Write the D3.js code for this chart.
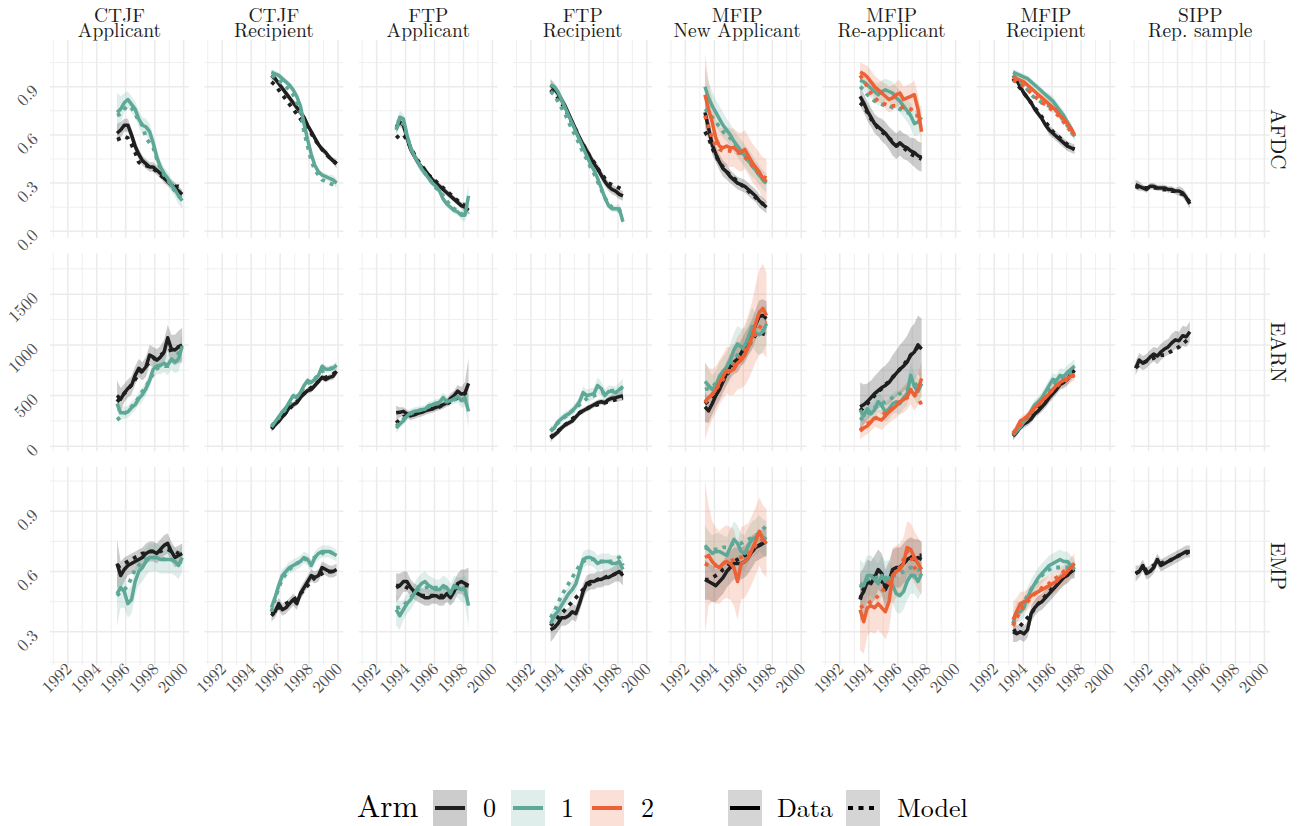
<!DOCTYPE html>
<html><head><meta charset="utf-8">
<script src="https://cdn.jsdelivr.net/npm/d3@7"></script>
<style>body{margin:0;background:#fff}</style>
</head><body>
<svg id="chart" width="1302" height="826"></svg>
<script>
// ---------- facet labels & ticks ----------
const programs = ["CTJF","CTJF","FTP","FTP","MFIP","MFIP","MFIP","SIPP"];
const samples  = ["Applicant","Recipient","Applicant","Recipient","New Applicant","Re-applicant","Recipient","Rep. sample"];
const outcomes = ["AFDC","EARN","EMP"];
const startYear = [1995.4,1995.4,1993.35,1993.35,1993.35,1993.4,1993.3,1991.1]; // first quarter plotted per column
const xTicks = [1992,1994,1996,1998,2000];
const xMinor = [1991,1993,1995,1997,1999];
const yTicksAFDC = [0,0.3,0.6,0.9],  yMinorAFDC = [0.15,0.45,0.75,1.05];
const yTicksEARN = [0,500,1000,1500], yMinorEARN = [250,750,1250,1750];
const yTicksEMP  = [0.3,0.6,0.9],    yMinorEMP  = [0.15,0.45,0.75,1.05];
const yLabelsAFDC = ["0.0","0.3","0.6","0.9"];
const yLabelsEARN = ["0","500","1000","1500"];
const yLabelsEMP  = ["0.3","0.6","0.9"];
const armLabels = ["0","1","2"];
const typeLabels = ["Data","Model"];

// ---------- AFDC ----------
const ctjfA_afdc_d0=[0.61,0.63,0.66,0.66,0.60,0.53,0.48,0.44,0.42,0.40,0.40,0.38,0.36,0.33,0.31,0.29,0.27,0.25,0.23];
const ctjfA_afdc_m0=[0.57,0.58,0.59,0.58,0.54,0.49,0.43,0.41,0.41,0.40,0.39,0.37,0.35,0.33,0.31,0.29,0.28,0.28,0.27];
const ctjfA_afdc_s0=[0.06,0.05,0.04,0.04,0.04,0.04,0.03,0.03,0.03,0.03,0.03,0.03,0.03,0.03,0.03,0.03,0.03,0.03,0.03];
const ctjfA_afdc_d1=[0.74,0.76,0.80,0.82,0.79,0.76,0.70,0.66,0.65,0.62,0.55,0.46,0.40,0.36,0.33,0.29,0.26,0.22,0.19];
const ctjfA_afdc_m1=[0.72,0.73,0.76,0.78,0.77,0.73,0.69,0.66,0.58,0.55,0.52,0.45,0.39,0.35,0.32,0.28,0.25,0.22,0.20];
const ctjfA_afdc_s1=[0.12,0.08,0.06,0.05,0.05,0.05,0.05,0.05,0.05,0.05,0.05,0.05,0.04,0.04,0.04,0.04,0.05,0.05,0.05];

const ctjfR_afdc_d0=[0.97,0.95,0.92,0.89,0.86,0.83,0.80,0.77,0.74,0.71,0.66,0.62,0.58,0.54,0.51,0.49,0.46,0.44,0.42];
const ctjfR_afdc_m0=[0.93,0.91,0.88,0.85,0.82,0.79,0.76,0.73,0.70,0.67,0.64,0.61,0.57,0.54,0.51,0.48,0.46,0.44,0.42];
const ctjfR_afdc_s0=[0.03,0.02,0.02,0.02,0.02,0.02,0.02,0.02,0.02,0.02,0.02,0.02,0.02,0.02,0.02,0.02,0.02,0.02,0.03];
const ctjfR_afdc_d1=[0.99,0.98,0.97,0.95,0.93,0.91,0.88,0.84,0.78,0.67,0.57,0.48,0.41,0.37,0.35,0.34,0.33,0.32,0.30];
const ctjfR_afdc_m1=[0.97,0.96,0.94,0.92,0.90,0.88,0.85,0.80,0.75,0.62,0.53,0.44,0.38,0.35,0.32,0.31,0.30,0.29,0.28];
const ctjfR_afdc_s1=[0.02,0.02,0.02,0.02,0.02,0.02,0.02,0.02,0.02,0.02,0.02,0.02,0.02,0.02,0.02,0.02,0.02,0.03,0.03];

const ftpA_afdc_d0=[0.65,0.68,0.66,0.58,0.51,0.47,0.43,0.40,0.38,0.35,0.32,0.30,0.28,0.26,0.24,0.22,0.20,0.18,0.16,0.15,0.13];
const ftpA_afdc_m0=[0.58,0.60,0.60,0.57,0.52,0.48,0.44,0.41,0.38,0.35,0.33,0.31,0.29,0.27,0.25,0.23,0.21,0.19,0.17,0.16,0.15];
const ftpA_afdc_s0=[0.04,0.03,0.03,0.03,0.03,0.02,0.02,0.02,0.02,0.02,0.02,0.02,0.02,0.02,0.02,0.02,0.02,0.02,0.02,0.03,0.03];
const ftpA_afdc_d1=[0.63,0.71,0.70,0.60,0.52,0.47,0.43,0.39,0.36,0.33,0.30,0.28,0.25,0.20,0.17,0.15,0.13,0.12,0.10,0.10,0.22];
const ftpA_afdc_m1=[0.64,0.68,0.67,0.59,0.52,0.47,0.43,0.39,0.36,0.33,0.30,0.27,0.25,0.22,0.19,0.16,0.14,0.13,0.11,0.10,0.12];
const ftpA_afdc_s1=[0.05,0.04,0.03,0.03,0.03,0.03,0.03,0.03,0.02,0.02,0.02,0.02,0.02,0.02,0.02,0.02,0.02,0.02,0.03,0.04,0.08];

const ftpR_afdc_d0=[0.91,0.89,0.86,0.82,0.78,0.73,0.68,0.63,0.58,0.54,0.50,0.46,0.42,0.39,0.35,0.31,0.28,0.26,0.25,0.23,0.22];
const ftpR_afdc_m0=[0.88,0.86,0.83,0.80,0.76,0.72,0.67,0.63,0.58,0.54,0.50,0.46,0.43,0.39,0.36,0.33,0.30,0.29,0.28,0.27,0.26];
const ftpR_afdc_s0=[0.04,0.03,0.03,0.03,0.03,0.03,0.03,0.03,0.03,0.03,0.03,0.03,0.03,0.03,0.03,0.03,0.03,0.03,0.03,0.03,0.03];
const ftpR_afdc_d1=[0.91,0.90,0.87,0.82,0.77,0.72,0.67,0.62,0.57,0.52,0.47,0.42,0.38,0.33,0.27,0.21,0.16,0.14,0.14,0.14,0.06];
const ftpR_afdc_m1=[0.87,0.85,0.81,0.77,0.73,0.68,0.63,0.59,0.54,0.49,0.45,0.40,0.36,0.31,0.26,0.21,0.17,0.15,0.14,0.13,0.10];
const ftpR_afdc_s1=[0.03,0.03,0.02,0.02,0.02,0.02,0.02,0.02,0.02,0.02,0.02,0.02,0.02,0.02,0.02,0.02,0.02,0.02,0.02,0.03,0.03];

const mfipNA_afdc_d0=[0.74,0.64,0.54,0.48,0.43,0.39,0.37,0.34,0.32,0.30,0.29,0.28,0.26,0.24,0.22,0.19,0.17,0.15];
const mfipNA_afdc_m0=[0.62,0.58,0.52,0.47,0.43,0.40,0.37,0.35,0.33,0.31,0.29,0.27,0.25,0.23,0.21,0.19,0.17,0.16];
const mfipNA_afdc_s0=[0.08,0.07,0.06,0.05,0.05,0.05,0.05,0.04,0.04,0.04,0.04,0.04,0.04,0.04,0.04,0.04,0.04,0.04];
const mfipNA_afdc_d1=[0.90,0.83,0.78,0.74,0.70,0.66,0.63,0.60,0.56,0.53,0.50,0.47,0.44,0.41,0.38,0.35,0.32,0.30];
const mfipNA_afdc_m1=[0.76,0.74,0.71,0.68,0.65,0.62,0.60,0.58,0.55,0.52,0.49,0.46,0.44,0.41,0.38,0.35,0.32,0.30];
const mfipNA_afdc_s1=[0.12,0.10,0.09,0.08,0.08,0.08,0.07,0.07,0.07,0.07,0.07,0.07,0.07,0.07,0.06,0.06,0.06,0.06];
const mfipNA_afdc_d2=[0.85,0.76,0.68,0.58,0.53,0.52,0.53,0.52,0.52,0.50,0.49,0.51,0.47,0.43,0.40,0.37,0.33,0.31];
const mfipNA_afdc_m2=[0.72,0.65,0.58,0.53,0.51,0.50,0.50,0.50,0.49,0.49,0.48,0.46,0.44,0.41,0.38,0.36,0.34,0.33];
const mfipNA_afdc_s2=[0.26,0.18,0.14,0.12,0.12,0.12,0.12,0.12,0.12,0.12,0.12,0.12,0.12,0.12,0.12,0.12,0.13,0.14];

const mfipRA_afdc_d0=[0.84,0.80,0.75,0.71,0.67,0.65,0.63,0.61,0.58,0.55,0.53,0.55,0.53,0.52,0.50,0.49,0.47,0.46];
const mfipRA_afdc_m0=[0.80,0.78,0.74,0.70,0.67,0.64,0.62,0.60,0.58,0.56,0.54,0.53,0.52,0.50,0.48,0.47,0.46,0.45];
const mfipRA_afdc_s0=[0.06,0.06,0.06,0.06,0.06,0.06,0.07,0.07,0.07,0.08,0.08,0.08,0.08,0.08,0.08,0.09,0.09,0.09];
const mfipRA_afdc_d1=[0.94,0.93,0.91,0.89,0.87,0.85,0.87,0.88,0.87,0.86,0.83,0.81,0.78,0.75,0.72,0.67,0.68,0.71];
const mfipRA_afdc_m1=[0.90,0.88,0.85,0.83,0.81,0.80,0.79,0.78,0.78,0.77,0.77,0.76,0.75,0.74,0.73,0.72,0.72,0.72];
const mfipRA_afdc_s1=[0.06,0.06,0.06,0.06,0.06,0.07,0.07,0.07,0.07,0.07,0.07,0.07,0.07,0.07,0.08,0.08,0.08,0.08];
const mfipRA_afdc_d2=[0.99,0.98,0.96,0.93,0.90,0.88,0.86,0.84,0.82,0.83,0.85,0.86,0.82,0.83,0.84,0.85,0.76,0.62];
const mfipRA_afdc_m2=[0.97,0.94,0.90,0.86,0.83,0.81,0.80,0.79,0.78,0.78,0.78,0.78,0.77,0.77,0.76,0.74,0.72,0.70];
const mfipRA_afdc_s2=[0.06,0.06,0.07,0.07,0.07,0.07,0.07,0.08,0.08,0.08,0.08,0.08,0.08,0.08,0.08,0.09,0.09,0.10];

const mfipR_afdc_d0=[0.97,0.94,0.90,0.86,0.83,0.80,0.76,0.73,0.70,0.66,0.63,0.61,0.59,0.57,0.55,0.53,0.52,0.51];
const mfipR_afdc_m0=[0.95,0.92,0.89,0.86,0.83,0.80,0.77,0.74,0.71,0.68,0.65,0.62,0.60,0.58,0.56,0.54,0.52,0.51];
const mfipR_afdc_s0=[0.02,0.02,0.02,0.02,0.02,0.02,0.02,0.02,0.02,0.02,0.03,0.03,0.03,0.03,0.03,0.03,0.03,0.03];
const mfipR_afdc_d1=[0.99,0.98,0.97,0.96,0.95,0.93,0.91,0.89,0.87,0.85,0.83,0.81,0.78,0.75,0.72,0.68,0.64,0.59];
const mfipR_afdc_m1=[0.97,0.95,0.93,0.91,0.88,0.85,0.83,0.82,0.80,0.79,0.78,0.77,0.75,0.72,0.69,0.66,0.62,0.59];
const mfipR_afdc_s1=[0.02,0.02,0.02,0.02,0.02,0.02,0.02,0.02,0.02,0.02,0.03,0.03,0.03,0.03,0.03,0.03,0.03,0.03];
const mfipR_afdc_d2=[0.96,0.95,0.94,0.93,0.91,0.89,0.87,0.85,0.83,0.81,0.79,0.77,0.75,0.72,0.70,0.67,0.64,0.60];
const mfipR_afdc_m2=[0.94,0.93,0.92,0.90,0.88,0.86,0.84,0.82,0.80,0.79,0.77,0.75,0.73,0.71,0.68,0.65,0.62,0.60];
const mfipR_afdc_s2=[0.02,0.02,0.02,0.02,0.02,0.02,0.02,0.02,0.03,0.03,0.03,0.03,0.03,0.03,0.03,0.03,0.03,0.03];

const sipp_afdc_d0=[0.29,0.28,0.27,0.26,0.28,0.28,0.27,0.27,0.27,0.26,0.26,0.25,0.25,0.24,0.21,0.17];
const sipp_afdc_m0=[0.28,0.27,0.27,0.27,0.27,0.27,0.27,0.26,0.26,0.26,0.25,0.25,0.24,0.23,0.21,0.18];
const sipp_afdc_s0=[0.03,0.03,0.02,0.02,0.02,0.02,0.02,0.02,0.02,0.02,0.02,0.02,0.03,0.03,0.03,0.03];

// ---------- EARN ----------
const ctjfA_earn_d0=[500,465,525,570,600,700,770,740,785,900,880,850,880,930,1070,960,950,980,1000];
const ctjfA_earn_m0=[440,480,520,560,610,660,710,750,790,830,860,880,900,920,940,950,960,980,1000];
const ctjfA_earn_s0=[150,110,90,90,90,90,90,90,100,100,100,110,110,120,130,140,150,160,170];
const ctjfA_earn_d1=[420,330,330,340,380,410,470,510,570,650,760,790,800,820,800,860,830,860,990];
const ctjfA_earn_m1=[260,290,320,350,390,430,480,540,590,650,720,770,780,790,790,850,880,920,980];
const ctjfA_earn_s1=[80,70,60,60,60,60,60,70,70,70,80,80,90,90,100,100,110,120,130];

const ctjfR_earn_d0=[180,210,250,290,330,390,410,430,480,520,550,560,600,640,680,660,680,690,740];
const ctjfR_earn_m0=[170,210,250,290,330,370,410,440,480,520,550,580,610,640,660,680,700,710,740];
const ctjfR_earn_s0=[40,30,30,30,30,30,30,30,30,30,30,30,30,30,30,30,30,35,40];
const ctjfR_earn_d1=[190,240,290,340,380,440,500,480,530,600,650,630,660,700,790,760,760,770,800];
const ctjfR_earn_m1=[200,240,280,330,370,420,460,490,530,580,620,640,670,700,740,750,760,780,800];
const ctjfR_earn_s1=[40,30,30,30,30,30,30,30,30,30,30,30,30,30,35,35,35,40,40];

const ftpA_earn_d0=[330,335,345,320,300,310,325,335,350,360,370,385,395,410,430,470,500,545,515,525,620];
const ftpA_earn_m0=[230,260,290,300,310,320,330,340,350,360,370,380,390,410,420,440,460,480,500,520,550];
const ftpA_earn_s0=[70,50,40,40,40,40,40,40,40,40,40,40,40,40,40,50,50,60,70,110,250];
const ftpA_earn_d1=[180,220,250,300,330,345,350,360,365,400,410,425,435,480,440,450,470,490,450,480,345];
const ftpA_earn_m1=[200,230,270,300,320,340,350,360,370,390,400,415,425,440,440,450,460,470,470,460,450];
const ftpA_earn_s1=[50,40,40,40,40,40,40,40,40,40,40,40,40,50,50,50,50,60,70,90,160];

const ftpR_earn_d0=[80,110,140,180,210,230,250,290,330,350,370,390,410,430,440,430,460,475,480,490,500];
const ftpR_earn_m0=[90,120,150,180,210,240,270,300,330,350,370,390,400,410,420,430,440,450,460,470,480];
const ftpR_earn_s0=[40,30,30,30,30,30,30,30,30,30,30,30,30,30,30,30,30,35,40,45,50];
const ftpR_earn_d1=[150,180,240,270,300,320,350,390,440,530,500,510,520,600,570,500,540,540,530,560,590];
const ftpR_earn_m1=[150,190,230,260,290,320,350,380,410,440,470,490,500,510,520,530,540,550,550,560,580];
const ftpR_earn_s1=[50,40,40,40,40,40,40,45,50,60,60,60,60,80,70,60,60,60,60,70,80];

const mfipNA_earn_d0=[390,350,420,500,560,640,720,790,830,860,920,980,1040,1100,1200,1280,1290,1260];
const mfipNA_earn_m0=[420,450,490,540,600,650,700,760,800,850,890,940,990,1050,1100,1120,1110,1100];
const mfipNA_earn_s0=[150,120,110,110,110,110,120,120,120,130,130,140,140,150,150,160,160,170];
const mfipNA_earn_d1=[640,600,560,600,690,740,780,850,950,1010,980,990,1080,1180,1120,1100,1130,1210];
const mfipNA_earn_m1=[560,570,590,620,660,700,750,800,850,900,950,990,1040,1080,1110,1130,1140,1150];
const mfipNA_earn_s1=[200,160,140,140,140,140,150,160,170,180,180,180,180,190,190,200,200,200];
const mfipNA_earn_d2=[440,480,510,560,630,690,750,740,760,820,850,900,980,1080,1210,1320,1360,1290];
const mfipNA_earn_m2=[430,470,510,560,610,660,710,760,800,840,890,940,990,1050,1110,1170,1210,1230];
const mfipNA_earn_s2=[380,300,250,230,220,220,230,240,250,260,280,300,320,340,380,420,440,420];

const mfipRA_earn_d0=[390,410,440,480,520,550,580,600,630,680,720,760,790,830,900,930,1000,960];
const mfipRA_earn_m0=[350,380,420,460,500,540,570,610,640,680,720,760,800,850,900,940,980,1000];
const mfipRA_earn_s0=[240,200,180,170,170,180,190,200,210,220,230,240,250,260,270,280,290,300];
const mfipRA_earn_d1=[360,300,370,320,360,440,400,340,370,420,440,420,480,520,700,590,540,620];
const mfipRA_earn_m1=[260,290,320,350,380,400,420,440,460,480,500,520,540,560,580,600,620,640];
const mfipRA_earn_s1=[100,90,90,90,90,100,100,100,100,100,110,110,110,120,130,130,130,130];
const mfipRA_earn_d2=[150,180,200,240,280,270,260,300,340,370,400,440,460,490,560,500,560,670];
const mfipRA_earn_m2=[160,190,220,250,270,290,310,330,350,380,410,440,460,480,500,510,470,410];
const mfipRA_earn_s2=[80,80,80,90,90,90,100,100,110,110,120,120,130,130,140,150,160,170];

const mfipR_earn_d0=[100,140,190,220,240,270,320,350,390,430,480,520,560,610,630,660,710,750];
const mfipR_earn_m0=[110,150,190,230,270,310,350,390,430,470,510,550,590,620,650,680,700,700];
const mfipR_earn_s0=[40,40,40,40,40,40,40,40,50,50,50,50,50,50,60,60,60,60];
const mfipR_earn_d1=[110,150,190,240,280,350,410,440,480,540,600,660,650,700,690,730,760,790];
const mfipR_earn_m1=[120,160,200,240,280,330,380,420,470,520,570,610,640,660,680,700,720,740];
const mfipR_earn_s1=[40,40,40,40,50,50,50,50,60,60,60,60,60,70,70,70,70,70];
const mfipR_earn_d2=[120,180,250,270,300,340,380,410,450,480,520,560,600,630,650,670,690,710];
const mfipR_earn_m2=[130,170,210,250,290,330,370,410,450,490,520,560,590,620,640,660,680,700];
const mfipR_earn_s2=[40,40,40,40,40,40,50,50,50,50,50,60,60,60,60,60,60,60];

const sipp_earn_d0=[770,850,820,840,880,910,890,930,960,980,1020,1050,1040,1090,1080,1130];
const sipp_earn_m0=[780,800,820,840,860,870,890,900,900,920,940,960,980,1010,1040,1070];
const sipp_earn_s0=[70,70,70,70,70,70,80,80,80,80,90,90,90,100,100,100];

// ---------- EMP ----------
const ctjfA_emp_d0=[0.64,0.58,0.61,0.63,0.64,0.65,0.66,0.67,0.69,0.70,0.70,0.69,0.71,0.73,0.74,0.70,0.67,0.68,0.69];
const ctjfA_emp_m0=[0.62,0.63,0.64,0.65,0.66,0.67,0.68,0.69,0.69,0.70,0.70,0.70,0.70,0.71,0.71,0.70,0.70,0.69,0.69];
const ctjfA_emp_s0=[0.12,0.07,0.06,0.05,0.05,0.05,0.05,0.05,0.05,0.05,0.05,0.05,0.05,0.05,0.05,0.05,0.05,0.05,0.05];
const ctjfA_emp_d1=[0.49,0.52,0.50,0.44,0.46,0.55,0.60,0.62,0.65,0.67,0.67,0.67,0.66,0.66,0.66,0.66,0.65,0.63,0.67];
const ctjfA_emp_m1=[0.48,0.50,0.51,0.53,0.57,0.61,0.63,0.65,0.66,0.67,0.67,0.67,0.67,0.66,0.66,0.66,0.65,0.65,0.65];
const ctjfA_emp_s1=[0.16,0.10,0.08,0.07,0.07,0.07,0.07,0.07,0.07,0.07,0.07,0.07,0.07,0.07,0.07,0.07,0.07,0.07,0.07];

const ctjfR_emp_d0=[0.39,0.40,0.44,0.41,0.42,0.44,0.46,0.44,0.49,0.52,0.55,0.58,0.57,0.58,0.62,0.61,0.60,0.60,0.61];
const ctjfR_emp_m0=[0.38,0.40,0.42,0.43,0.44,0.45,0.46,0.47,0.49,0.51,0.53,0.55,0.57,0.58,0.59,0.60,0.60,0.60,0.60];
const ctjfR_emp_s0=[0.04,0.03,0.03,0.03,0.03,0.03,0.03,0.03,0.03,0.03,0.03,0.03,0.03,0.03,0.03,0.03,0.03,0.03,0.03];
const ctjfR_emp_d1=[0.42,0.47,0.53,0.58,0.60,0.62,0.63,0.64,0.65,0.67,0.66,0.63,0.67,0.69,0.70,0.70,0.70,0.69,0.68];
const ctjfR_emp_m1=[0.40,0.46,0.52,0.56,0.59,0.61,0.63,0.64,0.65,0.66,0.66,0.66,0.67,0.68,0.69,0.70,0.70,0.69,0.68];
const ctjfR_emp_s1=[0.04,0.03,0.03,0.03,0.03,0.03,0.03,0.03,0.03,0.03,0.03,0.03,0.03,0.03,0.03,0.03,0.03,0.03,0.03];

const ftpA_emp_d0=[0.52,0.53,0.55,0.55,0.52,0.50,0.49,0.48,0.47,0.47,0.48,0.48,0.47,0.47,0.49,0.47,0.50,0.54,0.55,0.54,0.53];
const ftpA_emp_m0=[0.53,0.53,0.53,0.52,0.51,0.50,0.49,0.48,0.48,0.48,0.48,0.48,0.48,0.48,0.49,0.50,0.51,0.52,0.53,0.53,0.53];
const ftpA_emp_s0=[0.07,0.06,0.05,0.05,0.04,0.04,0.04,0.04,0.04,0.04,0.04,0.04,0.04,0.04,0.04,0.04,0.05,0.05,0.06,0.07,0.09];
const ftpA_emp_d1=[0.41,0.38,0.41,0.44,0.46,0.49,0.52,0.54,0.55,0.53,0.52,0.51,0.51,0.53,0.52,0.49,0.53,0.52,0.51,0.51,0.43];
const ftpA_emp_m1=[0.42,0.42,0.43,0.45,0.47,0.49,0.51,0.52,0.52,0.52,0.52,0.52,0.52,0.52,0.52,0.52,0.52,0.52,0.52,0.51,0.50];
const ftpA_emp_s1=[0.08,0.07,0.05,0.05,0.05,0.05,0.05,0.05,0.05,0.05,0.05,0.05,0.05,0.05,0.05,0.05,0.05,0.05,0.06,0.07,0.11];

const ftpR_emp_d0=[0.31,0.32,0.34,0.37,0.37,0.38,0.40,0.39,0.44,0.50,0.54,0.55,0.55,0.56,0.56,0.57,0.57,0.58,0.59,0.60,0.58];
const ftpR_emp_m0=[0.33,0.35,0.37,0.39,0.41,0.43,0.45,0.47,0.49,0.51,0.53,0.54,0.55,0.56,0.57,0.57,0.58,0.58,0.59,0.59,0.59];
const ftpR_emp_s0=[0.06,0.05,0.04,0.04,0.04,0.04,0.04,0.04,0.04,0.04,0.04,0.04,0.04,0.04,0.04,0.04,0.04,0.04,0.04,0.05,0.05];
const ftpR_emp_d1=[0.34,0.38,0.40,0.43,0.46,0.49,0.51,0.54,0.60,0.66,0.67,0.67,0.66,0.64,0.65,0.65,0.65,0.64,0.64,0.65,0.61];
const ftpR_emp_m1=[0.37,0.40,0.44,0.48,0.51,0.54,0.57,0.60,0.63,0.65,0.66,0.66,0.66,0.65,0.65,0.65,0.65,0.65,0.66,0.67,0.63];
const ftpR_emp_s1=[0.05,0.04,0.04,0.04,0.04,0.04,0.04,0.04,0.04,0.04,0.04,0.04,0.04,0.04,0.04,0.04,0.04,0.04,0.04,0.04,0.05];

const mfipNA_emp_d0=[0.56,0.55,0.54,0.53,0.55,0.57,0.60,0.62,0.64,0.64,0.64,0.65,0.67,0.70,0.72,0.73,0.74,0.75];
const mfipNA_emp_m0=[0.56,0.56,0.57,0.58,0.59,0.61,0.62,0.64,0.65,0.66,0.67,0.68,0.69,0.70,0.72,0.73,0.74,0.75];
const mfipNA_emp_s0=[0.10,0.09,0.09,0.08,0.08,0.08,0.08,0.08,0.08,0.08,0.08,0.08,0.08,0.08,0.07,0.07,0.07,0.07];
const mfipNA_emp_d1=[0.73,0.71,0.69,0.70,0.70,0.69,0.68,0.72,0.76,0.74,0.70,0.69,0.73,0.76,0.77,0.79,0.77,0.76];
const mfipNA_emp_m1=[0.72,0.71,0.71,0.71,0.71,0.72,0.72,0.73,0.74,0.74,0.74,0.75,0.76,0.77,0.78,0.79,0.81,0.83];
const mfipNA_emp_s1=[0.10,0.09,0.09,0.09,0.09,0.09,0.09,0.09,0.09,0.09,0.09,0.09,0.09,0.09,0.09,0.09,0.09,0.09];
const mfipNA_emp_d2=[0.67,0.68,0.65,0.63,0.62,0.64,0.65,0.64,0.62,0.55,0.64,0.65,0.67,0.71,0.75,0.80,0.76,0.74];
const mfipNA_emp_m2=[0.64,0.63,0.63,0.63,0.64,0.64,0.65,0.65,0.66,0.67,0.67,0.68,0.69,0.71,0.73,0.75,0.76,0.77];
const mfipNA_emp_s2=[0.38,0.25,0.20,0.19,0.18,0.18,0.18,0.18,0.19,0.19,0.18,0.18,0.17,0.17,0.17,0.17,0.17,0.17];

const mfipRA_emp_d0=[0.47,0.50,0.55,0.54,0.57,0.61,0.59,0.51,0.55,0.61,0.62,0.62,0.64,0.66,0.67,0.66,0.67,0.66];
const mfipRA_emp_m0=[0.46,0.52,0.55,0.58,0.57,0.56,0.55,0.53,0.56,0.58,0.60,0.62,0.64,0.66,0.67,0.68,0.68,0.68];
const mfipRA_emp_s0=[0.12,0.12,0.11,0.11,0.11,0.10,0.10,0.10,0.10,0.10,0.10,0.10,0.10,0.10,0.10,0.10,0.09,0.09];
const mfipRA_emp_d1=[0.54,0.53,0.58,0.58,0.56,0.54,0.58,0.55,0.57,0.53,0.49,0.48,0.50,0.55,0.58,0.58,0.55,0.59];
const mfipRA_emp_m1=[0.52,0.54,0.56,0.57,0.57,0.57,0.57,0.57,0.57,0.58,0.58,0.59,0.60,0.61,0.62,0.62,0.61,0.61];
const mfipRA_emp_s1=[0.12,0.11,0.10,0.10,0.10,0.10,0.10,0.10,0.09,0.09,0.09,0.09,0.09,0.09,0.09,0.09,0.09,0.09];
const mfipRA_emp_d2=[0.41,0.35,0.42,0.43,0.42,0.44,0.42,0.40,0.45,0.58,0.60,0.61,0.64,0.72,0.71,0.67,0.64,0.61];
const mfipRA_emp_m2=[0.42,0.43,0.44,0.45,0.46,0.48,0.50,0.52,0.55,0.58,0.60,0.62,0.66,0.70,0.68,0.62,0.60,0.60];
const mfipRA_emp_s2=[0.20,0.16,0.14,0.13,0.13,0.13,0.13,0.14,0.14,0.14,0.13,0.13,0.13,0.13,0.13,0.13,0.13,0.13];

const mfipR_emp_d0=[0.30,0.29,0.30,0.29,0.31,0.39,0.42,0.44,0.45,0.47,0.49,0.51,0.53,0.55,0.57,0.58,0.60,0.61];
const mfipR_emp_m0=[0.30,0.31,0.33,0.35,0.37,0.39,0.42,0.44,0.46,0.48,0.50,0.52,0.54,0.56,0.58,0.59,0.60,0.61];
const mfipR_emp_s0=[0.05,0.04,0.04,0.04,0.04,0.04,0.04,0.04,0.04,0.04,0.04,0.04,0.04,0.04,0.04,0.04,0.04,0.04];
const mfipR_emp_d1=[0.34,0.40,0.40,0.42,0.47,0.51,0.54,0.57,0.59,0.61,0.63,0.64,0.65,0.66,0.65,0.65,0.63,0.61];
const mfipR_emp_m1=[0.34,0.38,0.42,0.45,0.48,0.51,0.54,0.56,0.58,0.60,0.61,0.62,0.62,0.62,0.62,0.62,0.62,0.61];
const mfipR_emp_s1=[0.05,0.05,0.05,0.05,0.05,0.05,0.05,0.05,0.05,0.05,0.05,0.05,0.05,0.05,0.05,0.05,0.05,0.05];
const mfipR_emp_d2=[0.36,0.40,0.44,0.45,0.46,0.48,0.49,0.50,0.51,0.52,0.53,0.54,0.55,0.57,0.58,0.60,0.62,0.64];
const mfipR_emp_m2=[0.33,0.37,0.40,0.43,0.45,0.47,0.49,0.50,0.52,0.53,0.54,0.56,0.57,0.58,0.60,0.61,0.62,0.63];
const mfipR_emp_s2=[0.09,0.07,0.06,0.05,0.05,0.05,0.05,0.05,0.05,0.05,0.05,0.05,0.05,0.05,0.05,0.05,0.05,0.05];

const sipp_emp_d0=[0.59,0.60,0.63,0.59,0.60,0.62,0.66,0.63,0.64,0.65,0.66,0.67,0.68,0.69,0.70,0.70];
const sipp_emp_m0=[0.59,0.60,0.61,0.61,0.62,0.63,0.63,0.64,0.65,0.65,0.66,0.67,0.68,0.68,0.69,0.70];
const sipp_emp_s0=[0.04,0.03,0.03,0.03,0.03,0.03,0.03,0.03,0.03,0.03,0.03,0.03,0.03,0.03,0.03,0.03];

// ---------- table built from the arrays: [row][col] -> list of arms [data, model, se] ----------
const cells = [
 [ [[ctjfA_afdc_d0,ctjfA_afdc_m0,ctjfA_afdc_s0],[ctjfA_afdc_d1,ctjfA_afdc_m1,ctjfA_afdc_s1]],
   [[ctjfR_afdc_d0,ctjfR_afdc_m0,ctjfR_afdc_s0],[ctjfR_afdc_d1,ctjfR_afdc_m1,ctjfR_afdc_s1]],
   [[ftpA_afdc_d0,ftpA_afdc_m0,ftpA_afdc_s0],[ftpA_afdc_d1,ftpA_afdc_m1,ftpA_afdc_s1]],
   [[ftpR_afdc_d0,ftpR_afdc_m0,ftpR_afdc_s0],[ftpR_afdc_d1,ftpR_afdc_m1,ftpR_afdc_s1]],
   [[mfipNA_afdc_d0,mfipNA_afdc_m0,mfipNA_afdc_s0],[mfipNA_afdc_d1,mfipNA_afdc_m1,mfipNA_afdc_s1],[mfipNA_afdc_d2,mfipNA_afdc_m2,mfipNA_afdc_s2]],
   [[mfipRA_afdc_d0,mfipRA_afdc_m0,mfipRA_afdc_s0],[mfipRA_afdc_d1,mfipRA_afdc_m1,mfipRA_afdc_s1],[mfipRA_afdc_d2,mfipRA_afdc_m2,mfipRA_afdc_s2]],
   [[mfipR_afdc_d0,mfipR_afdc_m0,mfipR_afdc_s0],[mfipR_afdc_d1,mfipR_afdc_m1,mfipR_afdc_s1],[mfipR_afdc_d2,mfipR_afdc_m2,mfipR_afdc_s2]],
   [[sipp_afdc_d0,sipp_afdc_m0,sipp_afdc_s0]] ],
 [ [[ctjfA_earn_d0,ctjfA_earn_m0,ctjfA_earn_s0],[ctjfA_earn_d1,ctjfA_earn_m1,ctjfA_earn_s1]],
   [[ctjfR_earn_d0,ctjfR_earn_m0,ctjfR_earn_s0],[ctjfR_earn_d1,ctjfR_earn_m1,ctjfR_earn_s1]],
   [[ftpA_earn_d0,ftpA_earn_m0,ftpA_earn_s0],[ftpA_earn_d1,ftpA_earn_m1,ftpA_earn_s1]],
   [[ftpR_earn_d0,ftpR_earn_m0,ftpR_earn_s0],[ftpR_earn_d1,ftpR_earn_m1,ftpR_earn_s1]],
   [[mfipNA_earn_d0,mfipNA_earn_m0,mfipNA_earn_s0],[mfipNA_earn_d1,mfipNA_earn_m1,mfipNA_earn_s1],[mfipNA_earn_d2,mfipNA_earn_m2,mfipNA_earn_s2]],
   [[mfipRA_earn_d0,mfipRA_earn_m0,mfipRA_earn_s0],[mfipRA_earn_d1,mfipRA_earn_m1,mfipRA_earn_s1],[mfipRA_earn_d2,mfipRA_earn_m2,mfipRA_earn_s2]],
   [[mfipR_earn_d0,mfipR_earn_m0,mfipR_earn_s0],[mfipR_earn_d1,mfipR_earn_m1,mfipR_earn_s1],[mfipR_earn_d2,mfipR_earn_m2,mfipR_earn_s2]],
   [[sipp_earn_d0,sipp_earn_m0,sipp_earn_s0]] ],
 [ [[ctjfA_emp_d0,ctjfA_emp_m0,ctjfA_emp_s0],[ctjfA_emp_d1,ctjfA_emp_m1,ctjfA_emp_s1]],
   [[ctjfR_emp_d0,ctjfR_emp_m0,ctjfR_emp_s0],[ctjfR_emp_d1,ctjfR_emp_m1,ctjfR_emp_s1]],
   [[ftpA_emp_d0,ftpA_emp_m0,ftpA_emp_s0],[ftpA_emp_d1,ftpA_emp_m1,ftpA_emp_s1]],
   [[ftpR_emp_d0,ftpR_emp_m0,ftpR_emp_s0],[ftpR_emp_d1,ftpR_emp_m1,ftpR_emp_s1]],
   [[mfipNA_emp_d0,mfipNA_emp_m0,mfipNA_emp_s0],[mfipNA_emp_d1,mfipNA_emp_m1,mfipNA_emp_s1],[mfipNA_emp_d2,mfipNA_emp_m2,mfipNA_emp_s2]],
   [[mfipRA_emp_d0,mfipRA_emp_m0,mfipRA_emp_s0],[mfipRA_emp_d1,mfipRA_emp_m1,mfipRA_emp_s1],[mfipRA_emp_d2,mfipRA_emp_m2,mfipRA_emp_s2]],
   [[mfipR_emp_d0,mfipR_emp_m0,mfipR_emp_s0],[mfipR_emp_d1,mfipR_emp_m1,mfipR_emp_s1],[mfipR_emp_d2,mfipR_emp_m2,mfipR_emp_s2]],
   [[sipp_emp_d0,sipp_emp_m0,sipp_emp_s0]] ]
];

// ---------- drawing ----------
const FONT = "'Latin Modern Roman','CMU Serif','Liberation Serif',serif";
const armColors = ["#1f1f1f","#5ea897","#ec6236"];
const ribbonOpacity = 0.2;
const svg = d3.select("#chart");
const colW = 139, colStep = 154.4, left0 = 50;
const rowTop = [40, 253.3, 467], rowH = 198;
const yDomains = [[-0.0417,1.1904],[-49.2,1903.5],[0.135,1.12]];
const yTicks = [yTicksAFDC, yTicksEARN, yTicksEMP];
const yMinor = [yMinorAFDC, yMinorEARN, yMinorEMP];
const yLabels = [yLabelsAFDC, yLabelsEARN, yLabelsEMP];
const x = d3.scaleLinear().domain([1990.77, 2000.37]).range([0, colW]);
const ys = yDomains.map((d,i)=>d3.scaleLinear().domain(d).range([rowTop[i]+rowH, rowTop[i]]));

const defs = svg.append("defs");

for (let r=0;r<3;r++){
  const y = ys[r];
  for (let c=0;c<8;c++){
    const gx = left0 + c*colStep;
    const id = `clip${r}_${c}`;
    defs.append("clipPath").attr("id",id).append("rect")
      .attr("x",0).attr("y",rowTop[r]).attr("width",colW).attr("height",rowH);
    const g = svg.append("g").attr("transform",`translate(${gx},0)`);
    // grid
    const grid = g.append("g");
    grid.selectAll(".ymin").data(yMinor[r]).join("line")
      .attr("x1",0).attr("x2",colW).attr("y1",d=>y(d)).attr("y2",d=>y(d))
      .attr("stroke","#ebebeb").attr("stroke-width",0.8);
    grid.selectAll(".xmin").data(xMinor).join("line")
      .attr("x1",d=>x(d)).attr("x2",d=>x(d)).attr("y1",rowTop[r]).attr("y2",rowTop[r]+rowH)
      .attr("stroke","#ebebeb").attr("stroke-width",0.8);
    grid.selectAll(".ymaj").data(yTicks[r]).join("line")
      .attr("x1",0).attr("x2",colW).attr("y1",d=>y(d)).attr("y2",d=>y(d))
      .attr("stroke","#ebebeb").attr("stroke-width",1.5);
    grid.selectAll(".xmaj").data(xTicks).join("line")
      .attr("x1",d=>x(d)).attr("x2",d=>x(d)).attr("y1",rowTop[r]).attr("y2",rowTop[r]+rowH)
      .attr("stroke","#ebebeb").attr("stroke-width",1.5);

    const plot = g.append("g").attr("clip-path",`url(#${id})`);
    const arms = cells[r][c];
    const toPts = arr => arr.map((v,i)=>({t:startYear[c]+i*0.25, v}));
    // ribbons
    arms.forEach((a,k)=>{
      const pts = a[0].map((v,i)=>({t:startYear[c]+i*0.25, lo:v-a[2][i], hi:v+a[2][i]}));
      plot.append("path").datum(pts)
        .attr("d", d3.area().x(d=>x(d.t)).y0(d=>y(d.lo)).y1(d=>y(d.hi)))
        .attr("fill", k===0 ? "#000000" : armColors[k]).attr("fill-opacity", ribbonOpacity).attr("stroke","none");
    });
    // lines
    const line = d3.line().x(d=>x(d.t)).y(d=>y(d.v));
    arms.forEach((a,k)=>{
      plot.append("path").datum(toPts(a[0])).attr("d",line)
        .attr("fill","none").attr("stroke",armColors[k]).attr("stroke-width",3.5)
        .attr("stroke-linejoin","round");
      plot.append("path").datum(toPts(a[1])).attr("d",line)
        .attr("fill","none").attr("stroke",armColors[k]).attr("stroke-width",3.8)
        .attr("stroke-dasharray","3.8,5.4").attr("stroke-linejoin","round");
    });
    // x labels on bottom row
    if (r===2){
      g.selectAll(".xl").data(xTicks).join("text")
        .attr("transform",d=>`translate(${x(d)+5},${rowTop[r]+rowH+5}) rotate(-45)`)
        .attr("text-anchor","end").attr("font-family",FONT).attr("font-size",17)
        .attr("fill","#4d4d4d").text(d=>d);
    }
    // y labels on first column
    if (c===0){
      svg.selectAll(null).data(yTicks[r]).join("text")
        .attr("transform",d=>`translate(39,${y(d)+5}) rotate(-45)`)
        .attr("text-anchor","end").attr("font-family",FONT).attr("font-size",17)
        .attr("fill","#4d4d4d").text((d,i)=>yLabels[r][i]);
    }
  }
  // right strip
  svg.append("text")
    .attr("transform",`translate(1271,${rowTop[r]+rowH/2}) rotate(90)`)
    .attr("text-anchor","middle").attr("font-family",FONT).attr("font-size",21)
    .attr("fill","#1a1a1a").text(outcomes[r]);
}
// top strips: one text per strip, two lines as tspans
programs.forEach((p,c)=>{
  const cx = left0 + c*colStep + colW/2;
  const t = svg.append("text").attr("text-anchor","middle")
    .attr("font-family",FONT).attr("font-size",19.5).attr("fill","#1a1a1a");
  t.append("tspan").attr("x",cx).attr("y",21.5).text(p);
  t.append("tspan").attr("x",cx).attr("y",37).text(samples[c]);
});

// ---------- legend ----------
const lg = svg.append("g");
lg.append("text").attr("x",357).attr("y",817).attr("font-family",FONT).attr("font-size",31)
  .attr("fill","#000").text("Arm");
const armKeyX = [433,511,590];
const armTextX = [483,561,641];
armLabels.forEach((lab,k)=>{
  lg.append("rect").attr("x",armKeyX[k]).attr("y",790).attr("width",34).attr("height",36)
    .attr("fill", k===0 ? "#000000" : armColors[k]).attr("fill-opacity",ribbonOpacity);
  lg.append("line").attr("x1",armKeyX[k]+2).attr("x2",armKeyX[k]+32).attr("y1",808).attr("y2",808)
    .attr("stroke",armColors[k]).attr("stroke-width",4);
  lg.append("text").attr("x",armTextX[k]).attr("y",817).attr("font-family",FONT).attr("font-size",26)
    .attr("fill","#000").text(lab);
});
const typeKeyX = [728,846];
const typeTextX = [777,897];
typeLabels.forEach((lab,k)=>{
  lg.append("rect").attr("x",typeKeyX[k]).attr("y",790).attr("width",34).attr("height",36)
    .attr("fill","#d5d5d5");
  const ln = lg.append("line").attr("x1",typeKeyX[k]+2).attr("x2",typeKeyX[k]+32).attr("y1",808).attr("y2",808)
    .attr("stroke","#000").attr("stroke-width",4);
  if (k===1) ln.attr("stroke-dasharray","5,5.5");
  lg.append("text").attr("x",typeTextX[k]).attr("y",817).attr("font-family",FONT).attr("font-size",26)
    .attr("fill","#000").text(lab);
});
</script></body></html>
